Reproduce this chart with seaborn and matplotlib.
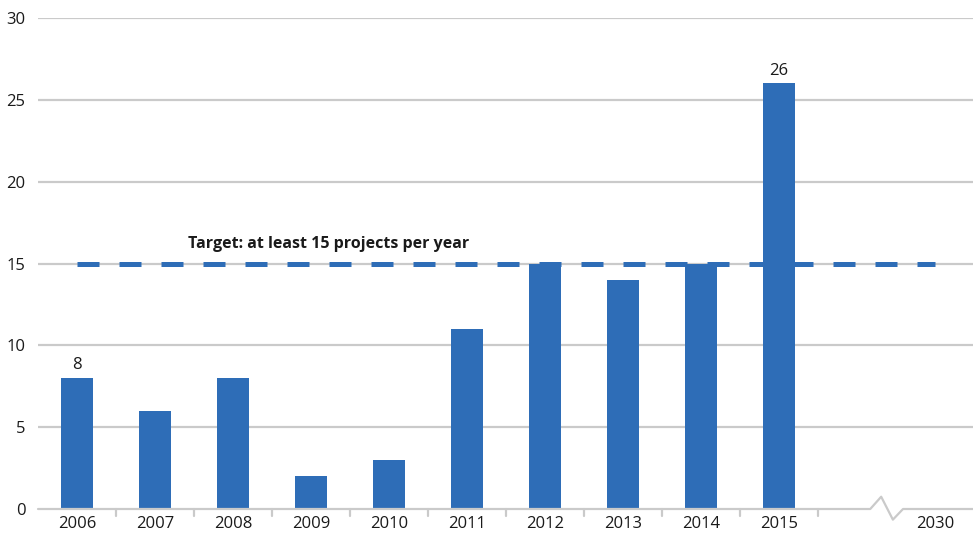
import numpy as np
import pandas as pd
import matplotlib
matplotlib.use("Agg")
import matplotlib.pyplot as plt
import seaborn as sns

# data
years = ['2006', '2007', '2008', '2009', '2010', '2011', '2012', '2013',
         '2014', '2015', ' ', '2030']
projects = [8, 6, 8, 2, 3, 11, 15, 14, 15, 26, np.nan, np.nan]
target = 15
labelled = {'2006': 8, '2015': 26}
yticks = [0, 5, 10, 15, 20, 25, 30]

df = pd.DataFrame({'Year': years, 'Projects': projects})

sns.set_style('white')
plt.rcParams['font.family'] = ['Open Sans', 'DejaVu Sans']

bar_color = '#2E6DB7'
grid_color = '#cacaca'

fig = plt.figure(figsize=(9.73, 5.36), dpi=100)
ax = fig.add_axes([38 / 973, 1 - 509 / 536, 936 / 973, 491 / 536])

sns.barplot(data=df, x='Year', y='Projects', order=years, color=bar_color,
            width=0.41, saturation=1, linewidth=0, ax=ax, zorder=3)

# target line behind the bars
ax.plot([0, len(years) - 1], [target, target], color=bar_color, lw=3.6,
        dashes=(4.4, 4.0), zorder=2, solid_capstyle='butt',
        dash_capstyle='butt')
ax.text(3.23, 16.2, 'Target: at least 15 projects per year', ha='center',
        va='center', fontsize=11.5, fontweight='bold', color='#1a1a1a')

# value labels
for i, y in enumerate(years):
    if y in labelled:
        ax.text(i, labelled[y] + 0.3, str(labelled[y]), ha='center',
                va='bottom', fontsize=12, color='#1a1a1a')

ax.set_xlim(-0.5, len(years) - 0.5)
ax.set_ylim(0, 30)
ax.set_yticks(yticks)
ax.set_yticklabels([str(t) for t in yticks])
for t in yticks[1:]:
    ax.axhline(t, color=grid_color, lw=1.6, zorder=1)

# x axis with a break before 2030
xs = [-0.5, 10.17, 10.31, 10.46, 10.59, len(years) - 0.5]
ys = [0, 0, 0.75, -0.65, 0, 0]
ax.plot(xs, ys, color=grid_color, lw=1.6, zorder=4, clip_on=False)
for b in np.arange(0.5, 10, 1.0):
    ax.plot([b, b], [0, -0.42], color=grid_color, lw=1.6, clip_on=False,
            zorder=4)

for s in ax.spines.values():
    s.set_visible(False)
ax.tick_params(axis='both', length=0, labelsize=12, colors='#1a1a1a')
ax.tick_params(axis='y', pad=9)
ax.tick_params(axis='x', pad=5)
ax.set_xlabel('')
ax.set_ylabel('')

fig.savefig('out.png', dpi=100)
